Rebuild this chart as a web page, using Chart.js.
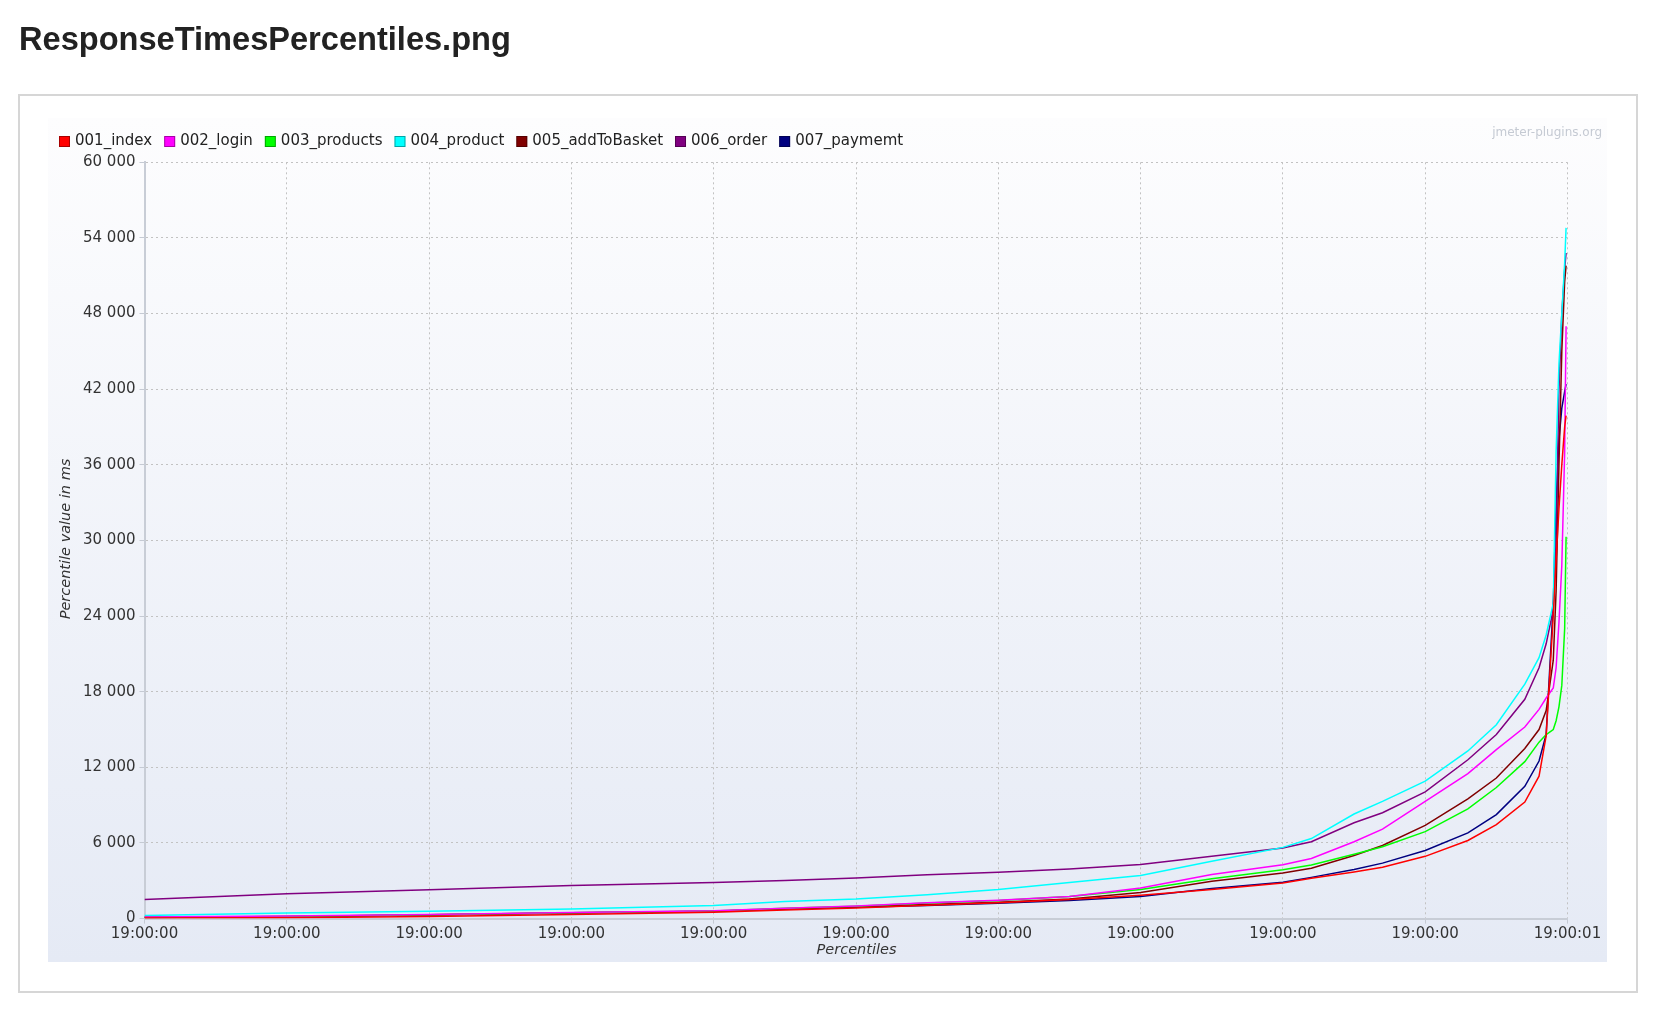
<!DOCTYPE html>
<html><head><meta charset="utf-8">
<script src="https://cdn.jsdelivr.net/npm/chart.js@4.4.1/dist/chart.umd.min.js"></script>
<style>
html,body{margin:0;padding:0;background:#fff;width:1654px;height:1010px;overflow:hidden}
#c{position:absolute;left:0;top:0}
</style></head><body>
<canvas id="c" width="1654" height="1010"></canvas>
<script>
// ---- data ----
const pageTitle = 'ResponseTimesPercentiles.png';
const watermark = 'jmeter-plugins.org';
const xAxisTitle = 'Percentiles';
const yAxisTitle = 'Percentile value in ms';
const xTickLabels = ['19:00:00','19:00:00','19:00:00','19:00:00','19:00:00','19:00:00','19:00:00','19:00:00','19:00:00','19:00:00','19:00:01'];
const seriesNames = ['001_index','002_login','003_products','004_product','005_addToBasket','006_order','007_paymemt'];
const seriesColors = ['#ff0000','#ff00ff','#00ff00','#00ffff','#800000','#800080','#000080'];
const percentiles = [0,10,20,30,40,45,50,55,60,65,70,75,80,82,85,87,90,93,95,97,98,98.5,99,99.2,99.4,99.6,99.8,99.9];
const index001 = [50,70,160,320,500,690,850,1050,1260,1510,1850,2300,2830,3200,3700,4080,4940,6200,7450,9250,11300,14500,24000,28500,32500,36000,39000,39900];
const login002 = [130,200,330,480,620,830,990,1250,1450,1760,2420,3490,4280,4770,6100,7100,9300,11500,13400,15200,16600,17500,18300,19900,23500,28000,37000,47000];
const products003 = [100,170,310,470,600,820,980,1240,1430,1750,2300,3170,3880,4260,5100,5700,6900,8700,10400,12450,14000,14600,15000,15700,16800,18500,23000,30300];
const product004 = [240,450,590,770,1030,1350,1560,1900,2300,2870,3420,4550,5650,6350,8300,9300,10900,13300,15380,18600,20700,22500,25000,37000,44000,48000,52000,54800];
const addToBasket005 = [90,160,300,460,590,780,950,1110,1300,1560,2080,2960,3620,4000,5000,5800,7400,9500,11150,13500,15000,16500,20500,26000,36000,45000,50500,51800];
const order006 = [1510,1980,2280,2620,2860,3020,3230,3470,3680,3940,4300,4940,5600,6100,7600,8400,10050,12600,14600,17400,19900,21800,24500,30000,42000,48000,51500,52800];
const paymemt007 = [110,150,290,450,580,767,900,1030,1220,1430,1760,2380,2880,3270,3900,4400,5400,6800,8250,10500,12500,14600,25000,33000,38000,40500,41800,42400];
const seriesValues = [index001, login002, products003, product004, addToBasket005, order006, paymemt007];

const datasets = seriesNames.map((name, i) => ({
  label: name,
  data: percentiles.map((p, j) => ({x: p, y: seriesValues[i][j]})),
  borderColor: seriesColors[i],
  backgroundColor: seriesColors[i],
  borderWidth: 1.5,
  pointRadius: 0,
  tension: 0,
  fill: false
}));

const FONT = '"DejaVu Sans", Verdana, sans-serif';

const decor = {
  id: 'decor',
  beforeDraw(chart) {
    const ctx = chart.ctx;
    ctx.save();
    ctx.fillStyle = '#ffffff';
    ctx.fillRect(0, 0, chart.width, chart.height);
    // page title
    ctx.fillStyle = '#222222';
    ctx.font = 'bold 32.6px "Liberation Sans", Arial, sans-serif';
    ctx.textBaseline = 'alphabetic';
    ctx.textAlign = 'left';
    ctx.fillText(pageTitle, 19, 50);
    // outer box
    ctx.strokeStyle = '#d6d6d6';
    ctx.lineWidth = 2;
    ctx.strokeRect(19, 95, 1618, 897);
    // chart background
    const g = ctx.createLinearGradient(0, 118, 0, 962);
    g.addColorStop(0, '#fdfdfe');
    g.addColorStop(1, '#e5eaf5');
    ctx.fillStyle = g;
    ctx.fillRect(48, 118, 1559, 844);
    // watermark
    ctx.fillStyle = '#c5cad3';
    ctx.font = '12px ' + FONT;
    ctx.textAlign = 'right';
    ctx.textBaseline = 'middle';
    ctx.fillText(watermark, 1602, 133);
    // legend
    ctx.font = '15px ' + FONT;
    ctx.textAlign = 'left';
    let x = 59;
    chart.data.datasets.forEach(ds => {
      ctx.fillStyle = ds.borderColor;
      ctx.fillRect(x, 136, 11, 11);
      ctx.strokeStyle = 'rgba(0,0,0,0.35)';
      ctx.lineWidth = 1;
      ctx.strokeRect(x + 0.5, 136.5, 10, 10);
      ctx.fillStyle = '#222222';
      ctx.fillText(ds.label, x + 16, 141.5);
      x += 16 + ctx.measureText(ds.label).width + 12;
    });
    // axis titles
    ctx.fillStyle = '#333333';
    ctx.font = 'italic 14.5px ' + FONT;
    ctx.textAlign = 'center';
    ctx.fillText(xAxisTitle, 856.5, 950);
    ctx.save();
    ctx.translate(66.5, 539);
    ctx.rotate(-Math.PI / 2);
    ctx.fillText(yAxisTitle, 0, 0);
    ctx.restore();
    ctx.restore();
  }
};

const fmt = v => String(v).replace(/\B(?=(\d{3})+(?!\d))/g, ' ');

new Chart(document.getElementById('c'), {
  type: 'line',
  data: { datasets },
  plugins: [decor],
  options: {
    responsive: false,
    animation: false,
    devicePixelRatio: 1,
    layout: { padding: { left: 44.5, right: 86.5, top: 162.3, bottom: 51.4 } },
    plugins: { legend: { display: false }, tooltip: { enabled: false }, title: { display: false } },
    scales: {
      x: {
        type: 'linear', min: 0, max: 100,
        afterFit: s => { s.height = 40; },
        ticks: {
          stepSize: 10, autoSkip: false, maxRotation: 0, padding: 2,
          color: '#333333', font: { family: FONT, size: 15 },
          callback: v => xTickLabels[Math.round(v / 10)]
        },
        grid: { color: '#c2c2c2', lineWidth: 1, drawTicks: true, tickLength: 5, tickColor: '#c5cad3', tickBorderDash: [] },
        border: { display: true, color: '#c8cdd6', width: 2, dash: [2, 3] }
      },
      y: {
        min: 0, max: 60000,
        afterFit: s => { s.width = 100; },
        ticks: {
          stepSize: 6000, padding: 4,
          color: '#333333', font: { family: FONT, size: 15 },
          callback: v => fmt(v)
        },
        grid: { color: '#c2c2c2', lineWidth: 1, drawTicks: true, tickLength: 5, tickColor: '#c5cad3', tickBorderDash: [] },
        border: { display: true, color: '#c8cdd6', width: 2, dash: [2, 3] }
      }
    }
  }
});
</script>
</body></html>
